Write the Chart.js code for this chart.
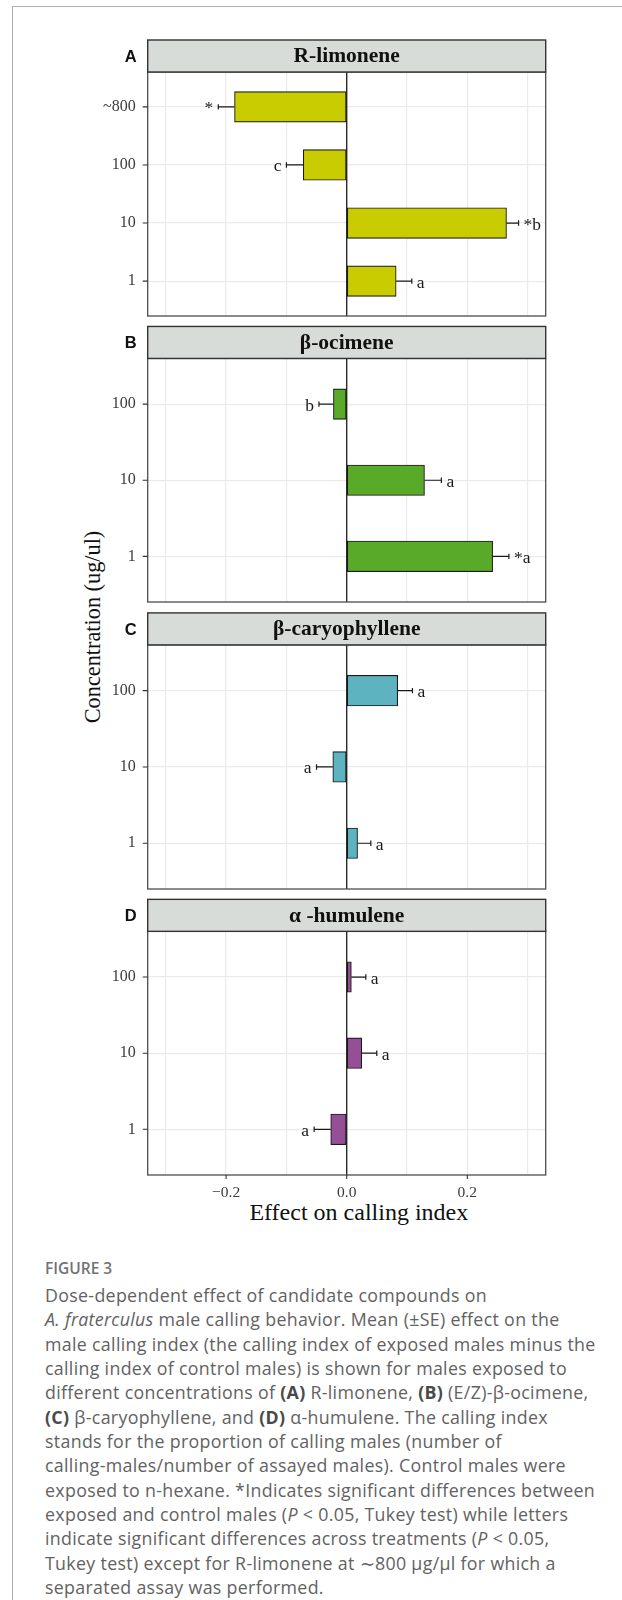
<!DOCTYPE html>
<html>
<head>
<meta charset="utf-8">
<title>Figure 3</title>
<script src="https://cdn.jsdelivr.net/npm/chart.js@4.4.0/dist/chart.umd.min.js"></script>
<style>
  html, body { margin: 0; padding: 0; background: #fff; }
  body { width: 622px; height: 1600px; position: relative; overflow: hidden; }
  #frame { position: absolute; left: 12px; top: 6px; width: 700px; height: 1700px;
    border-left: 1px solid #b0b0b0; border-top: 1px solid #b0b0b0; }
  canvas.panel { position: absolute; left: 0; }
  #ytitle { position: absolute; left: 93px; top: 627px; transform: translate(-50%, -50%) rotate(-90deg);
    font: 22.3px "Liberation Serif", serif; color: #111; white-space: nowrap; line-height: 1; }
  #xtitle { position: absolute; left: 358.8px; top: 1200px; transform: translateX(-50%);
    font: 24px "Liberation Serif", serif; color: #111; white-space: nowrap; line-height: 1; }
  #caption { position: absolute; left: 45px; top: 1258px; font-family: "Open Sans", sans-serif; color: #626262; }
  #caption .fig { font-size: 15.5px; font-weight: 600; color: #727272; line-height: 20px; margin-bottom: 5px; }
  #caption .txt { font-size: 17.8px; letter-spacing: 0.32px; line-height: 24.35px; white-space: nowrap; }
  #caption .txt b { font-weight: 700; color: #4a4a4a; }
</style>
</head>
<body>
<div id="frame"></div>
<div id="ytitle">Concentration (ug/ul)</div>
<div id="xtitle">Effect on calling index</div>
<div id="caption">
  <div class="fig">FIGURE 3</div>
  <div class="txt">
    Dose-dependent effect of candidate compounds on<br>
    <i>A. fraterculus</i> male calling behavior. Mean (±SE) effect on the<br>
    male calling index (the calling index of exposed males minus the<br>
    calling index of control males) is shown for males exposed to<br>
    different concentrations of <b>(A)</b> R-limonene, <b>(B)</b> (E/Z)-β-ocimene,<br>
    <b>(C)</b> β-caryophyllene, and <b>(D)</b> α-humulene. The calling index<br>
    stands for the proportion of calling males (number of<br>
    calling-males/number of assayed males). Control males were<br>
    exposed to n-hexane. *Indicates significant differences between<br>
    exposed and control males (<i>P</i> &lt; 0.05, Tukey test) while letters<br>
    indicate significant differences across treatments (<i>P</i> &lt; 0.05,<br>
    Tukey test) except for R-limonene at ∼800 μg/μl for which a<br>
    separated assay was performed.
  </div>
</div>
<script>
  // --- data ---
  const panelLetters = ['A', 'B', 'C', 'D'];
  const compounds = ['R-limonene', 'β-ocimene', 'β-caryophyllene', 'α -humulene'];
  const concLimonene = ['~800', '100', '10', '1'];
  const concOthers = ['100', '10', '1'];

  const effectLimonene = [-0.186, -0.072, 0.265, 0.082];
  const seLimonene = [0.027, 0.028, 0.020, 0.026];
  const lettersLimonene = ['*', 'c', '*b', 'a'];

  const effectOcimene = [-0.022, 0.129, 0.242];
  const seOcimene = [0.024, 0.028, 0.027];
  const lettersOcimene = ['b', 'a', '*a'];

  const effectCaryo = [0.0845, -0.023, 0.018];
  const seCaryo = [0.0245, 0.027, 0.022];
  const lettersCaryo = ['a', 'a', 'a'];

  const effectHumulene = [0.0077, 0.0249, -0.0265];
  const seHumulene = [0.024, 0.025, 0.0275];
  const lettersHumulene = ['a', 'a', 'a'];

  const barColors = ['#c8cc00', '#58aa28', '#5db4c0', '#944f97'];
  const xGridTicks = [-0.3, -0.2, -0.1, 0, 0.1, 0.2, 0.3];
  const xLabelTicks = [-0.2, 0, 0.2];

  // --- layout ---
  const PLOT_L = 147.7, PLOT_R = 545.7;
  const FIRST_STRIP = 40, PANEL_STEP = 286.45, STRIP_H = 32, PANEL_H = 243.5;
  const PAD_B = 14, X_AXIS_H = 40;
  const SERIF = '"Liberation Serif", "Times New Roman", serif';

  const panels = [
    { cats: concLimonene, values: effectLimonene, se: seLimonene, letters: lettersLimonene },
    { cats: concOthers, values: effectOcimene, se: seOcimene, letters: lettersOcimene },
    { cats: concOthers, values: effectCaryo, se: seCaryo, letters: lettersCaryo },
    { cats: concOthers, values: effectHumulene, se: seHumulene, letters: lettersHumulene }
  ];

  function fmtX(v) {
    if (v === 0) return '0.0';
    return (v < 0 ? '\u2212' : '') + Math.abs(v).toFixed(1);
  }

  const facetPlugin = {
    id: 'facet',
    beforeDatasetsDraw(chart) {
      const { ctx, chartArea: a, scales: { x } } = chart;
      const x0 = x.getPixelForValue(0);
      ctx.save();
      ctx.strokeStyle = '#2b2b2b';
      ctx.lineWidth = 1.4;
      ctx.beginPath();
      ctx.moveTo(x0, a.top);
      ctx.lineTo(x0, a.bottom);
      ctx.stroke();
      ctx.restore();
    },
    afterDatasetsDraw(chart, args, opts) {
      const { ctx, scales: { x, y } } = chart;
      const pts = chart.data.datasets[0].data;
      ctx.save();
      ctx.strokeStyle = '#1a1a1a';
      ctx.fillStyle = '#1a1a1a';
      ctx.lineWidth = 1.2;
      ctx.font = '17.5px ' + SERIF;
      pts.forEach((d, i) => {
        const dir = d.x < 0 ? -1 : 1;
        const end = d.x + dir * opts.se[i];
        const p0 = x.getPixelForValue(d.x);
        const p1 = x.getPixelForValue(end);
        const py = y.getPixelForValue(d.y);
        ctx.beginPath();
        ctx.moveTo(p0, py); ctx.lineTo(p1, py);
        ctx.moveTo(p1, py - 2.7); ctx.lineTo(p1, py + 2.7);
        ctx.stroke();
        ctx.textAlign = dir < 0 ? 'right' : 'left';
        ctx.textBaseline = 'alphabetic';
        ctx.fillText(opts.letters[i], p1 + dir * 5, py + 6.5);
      });
      ctx.restore();
    },
    afterDraw(chart, args, opts) {
      const { ctx, chartArea: a, scales: { x, y } } = chart;
      ctx.save();
      // panel border
      ctx.strokeStyle = '#4d4d4d';
      ctx.lineWidth = 1.3;
      ctx.strokeRect(a.left, a.top, a.right - a.left, a.bottom - a.top);
      // strip
      const st = a.top - STRIP_H;
      ctx.fillStyle = '#d8dcd9';
      ctx.fillRect(a.left, st, a.right - a.left, STRIP_H);
      ctx.strokeStyle = '#333';
      ctx.lineWidth = 1.4;
      ctx.strokeRect(a.left, st, a.right - a.left, STRIP_H);
      ctx.fillStyle = '#111';
      ctx.font = 'bold 21.5px ' + SERIF;
      ctx.textAlign = 'center';
      ctx.textBaseline = 'alphabetic';
      ctx.fillText(opts.title, (a.left + a.right) / 2, st + 22.3);
      // panel letter
      ctx.font = 'bold 16.5px "Liberation Sans", Arial, sans-serif';
      ctx.fillText(opts.letter, 130.8, st + 21.7);
      // tick marks
      ctx.strokeStyle = '#333';
      ctx.lineWidth = 1.1;
      ctx.beginPath();
      y.ticks.forEach(t => {
        const py = y.getPixelForValue(t.value);
        ctx.moveTo(a.left - 5, py); ctx.lineTo(a.left, py);
      });
      if (opts.bottomTicks) {
        xLabelTicks.forEach(v => {
          const px = x.getPixelForValue(v);
          ctx.moveTo(px, a.bottom); ctx.lineTo(px, a.bottom + 4);
        });
      }
      ctx.stroke();
      ctx.restore();
    }
  };

  panels.forEach((p, k) => {
    const isLast = k === panels.length - 1;
    const stripTop = FIRST_STRIP + k * PANEL_STEP;
    const canvasTop = Math.floor(stripTop) - 4;
    const padTop = stripTop - canvasTop + STRIP_H;
    const h = Math.ceil(padTop + PANEL_H + PAD_B + (isLast ? X_AXIS_H : 0));
    const cv = document.createElement('canvas');
    cv.className = 'panel';
    cv.width = 622; cv.height = h;
    cv.style.top = canvasTop + 'px';
    cv.style.width = '622px'; cv.style.height = h + 'px';
    document.body.appendChild(cv);

    new Chart(cv, {
      type: 'bar',
      data: {
        datasets: [{
          data: p.values.map((v, i) => ({ x: v, y: i })),
          backgroundColor: barColors[k],
          borderColor: '#1a1a1a',
          borderWidth: 1.1,
          borderSkipped: false,
          barThickness: 30.5
        }]
      },
      options: {
        indexAxis: 'y',
        responsive: false,
        animation: false,
        devicePixelRatio: 1,
        layout: { padding: { top: padTop, right: 622 - PLOT_R, bottom: PAD_B, left: 0 } },
        plugins: {
          legend: { display: false },
          tooltip: { enabled: false },
          facet: { title: compounds[k], letter: panelLetters[k], se: p.se, letters: p.letters, bottomTicks: isLast }
        },
        scales: {
          x: {
            type: 'linear', min: -0.33, max: 0.33,
            afterBuildTicks: s => { s.ticks = xGridTicks.map(v => ({ value: v })); },
            afterFit: s => { s.height = isLast ? X_AXIS_H : 0; },
            grid: { color: '#ebebeb', lineWidth: 1.2, drawTicks: false },
            border: { display: false },
            ticks: {
              display: isLast, padding: 9, color: '#3a3a3a',
              font: { family: SERIF, size: 15.5 },
              callback: v => xLabelTicks.includes(v) ? fmtX(v) : ''
            }
          },
          y: {
            type: 'linear', reverse: true, offset: false,
            min: -0.6, max: p.cats.length - 1 + 0.6,
            afterBuildTicks: s => { s.ticks = p.cats.map((c, i) => ({ value: i })); },
            afterFit: s => { s.width = PLOT_L; s.paddingTop = 0; s.paddingBottom = 0; },
            grid: { color: '#ebebeb', lineWidth: 1.2, drawTicks: false, offset: false },
            border: { display: false },
            ticks: {
              padding: 12, color: '#3a3a3a',
              font: { family: SERIF, size: 16 },
              callback: v => p.cats[v]
            }
          }
        }
      },
      plugins: [facetPlugin]
    });
  });
</script>
</body>
</html>
